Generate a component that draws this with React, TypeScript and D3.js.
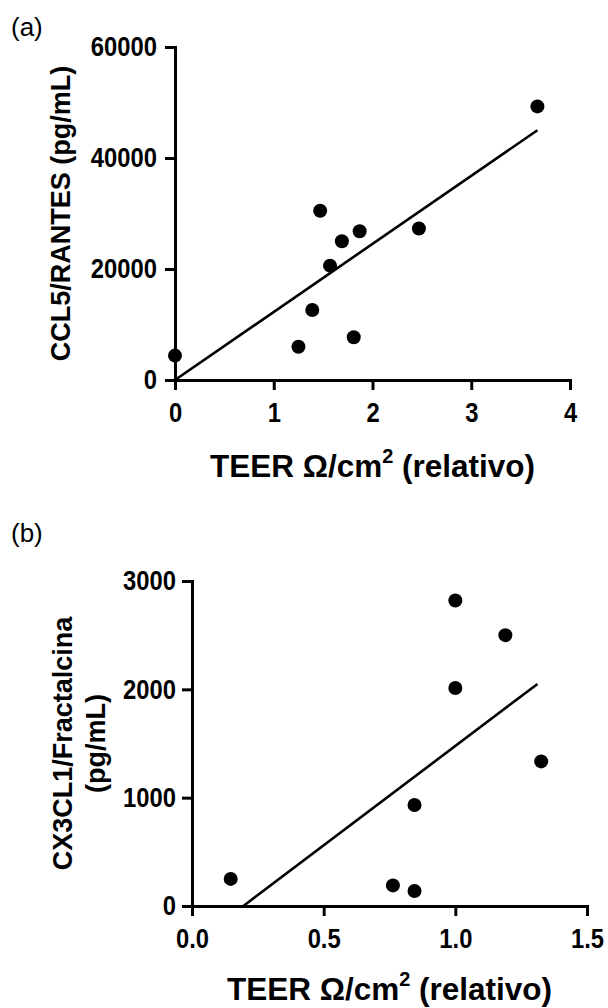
import React, { useEffect, useRef } from "react";
import * as d3 from "d3";

// Panel (a) data
const aTeer = [0, 1.25, 1.39, 1.47, 1.57, 1.69, 1.81, 1.87, 2.47, 3.67];
const aCcl5 = [4400, 6000, 12600, 30500, 20600, 25000, 7700, 26800, 27300, 49300];
const aFitX = [0, 3.67];
const aFitY = [0, 45000];
const aXTicks = [0, 1, 2, 3, 4];
const aYTicks = [0, 20000, 40000, 60000];

// Panel (b) data
const bTeer = [0.147, 0.763, 0.845, 0.845, 1.0, 1.0, 1.19, 1.326];
const bCx3cl1 = [250, 190, 138, 932, 2820, 2012, 2500, 1335];
const bFitX = [0.195, 1.312];
const bFitY = [0, 2050];
const bXTicks = [0, 0.5, 1.0, 1.5];
const bYTicks = [0, 1000, 2000, 3000];

const SANS = "'Liberation Sans', Arial, Helvetica, sans-serif";
const NARROW_SCALE = 0.85;

type Panel = {
  letter: string;
  letterY: number;
  xs: number[];
  ys: number[];
  fitX: number[];
  fitY: number[];
  xDomain: [number, number];
  yDomain: [number, number];
  xRange: [number, number];
  yRange: [number, number];
  xTicks: number[];
  yTicks: number[];
  xFmt: (v: number) => string;
  yGap: number;
  yLabel: string[];
  yLabelX: number[];
  xTitleY: number;
};

const panels: Panel[] = [
  {
    letter: "(a)",
    letterY: 36,
    xs: aTeer,
    ys: aCcl5,
    fitX: aFitX,
    fitY: aFitY,
    xDomain: [0, 4],
    yDomain: [0, 60000],
    xRange: [175, 570],
    yRange: [380, 47],
    xTicks: aXTicks,
    yTicks: aYTicks,
    xFmt: d3.format("d"),
    yGap: 18,
    yLabel: ["CCL5/RANTES (pg/mL)"],
    yLabelX: [70],
    xTitleY: 477,
  },
  {
    letter: "(b)",
    letterY: 542,
    xs: bTeer,
    ys: bCx3cl1,
    fitX: bFitX,
    fitY: bFitY,
    xDomain: [0, 1.5],
    yDomain: [0, 3000],
    xRange: [192, 587],
    yRange: [906, 581],
    xTicks: bXTicks,
    yTicks: bYTicks,
    xFmt: d3.format(".1f"),
    yGap: 16,
    yLabel: ["CX3CL1/Fractalcina", "(pg/mL)"],
    yLabelX: [72, 105],
    xTitleY: 1000,
  },
];

export default function App() {
  const ref = useRef<SVGSVGElement>(null);

  useEffect(() => {
    const svg = d3.select(ref.current);
    svg.selectAll("*").remove();

    panels.forEach((p) => {
      const g = svg.append("g");
      const x = d3.scaleLinear().domain(p.xDomain).range(p.xRange);
      const y = d3.scaleLinear().domain(p.yDomain).range(p.yRange);

      // panel letter
      g.append("text")
        .attr("x", 11)
        .attr("y", p.letterY)
        .attr("font-family", SANS)
        .attr("font-size", 26)
        .attr("fill", "#000")
        .text(p.letter);

      // x axis
      const xAxis = d3
        .axisBottom(x)
        .tickValues(p.xTicks)
        .tickFormat((d) => p.xFmt(d as number))
        .tickSize(10)
        .tickSizeOuter(0)
        .tickPadding(12);
      const gx = g
        .append("g")
        .attr("transform", `translate(0,${p.yRange[0]})`)
        .call(xAxis);

      // y axis
      const yAxis = d3
        .axisLeft(y)
        .tickValues(p.yTicks)
        .tickFormat(d3.format("d"))
        .tickSize(10)
        .tickSizeOuter(0)
        .tickPadding(p.yGap - 10);
      const gy = g
        .append("g")
        .attr("transform", `translate(${p.xRange[0]},0)`)
        .call(yAxis);

      [gx, gy].forEach((ax) => {
        ax.attr("font-family", null).attr("font-size", null);
        ax.select(".domain").attr("stroke", "#000").attr("stroke-width", 3).attr("stroke-linecap", "square");
        ax.selectAll(".tick line").attr("stroke", "#000").attr("stroke-width", 3);
        ax.selectAll(".tick text")
          .attr("fill", "#000")
          .attr("font-family", SANS)
          .attr("font-weight", "bold")
          .attr("font-size", 28)
          .attr("transform", `scale(${NARROW_SCALE},1)`);
      });
      gy.selectAll(".tick text").attr("x", -p.yGap / NARROW_SCALE);

      // regression line
      const fit = p.fitX.map((v, i) => [v, p.fitY[i]] as [number, number]);
      g.append("path")
        .datum(fit)
        .attr("fill", "none")
        .attr("stroke", "#000")
        .attr("stroke-width", 2.6)
        .attr(
          "d",
          d3
            .line<[number, number]>()
            .x((d) => x(d[0]))
            .y((d) => y(d[1]))
        );

      // points
      g.selectAll("circle.pt")
        .data(p.xs.map((v, i) => [v, p.ys[i]]))
        .enter()
        .append("circle")
        .attr("class", "pt")
        .attr("cx", (d) => x(d[0]))
        .attr("cy", (d) => y(d[1]))
        .attr("r", 7)
        .attr("fill", "#000");

      // y label
      const cy = (p.yRange[0] + p.yRange[1]) / 2;
      p.yLabel.forEach((line, i) => {
        g.append("text")
          .attr("transform", `translate(${p.yLabelX[i]},${cy}) rotate(-90)`)
          .attr("text-anchor", "middle")
          .attr("font-family", SANS)
          .attr("font-weight", "bold")
          .attr("font-size", 27)
          .attr("fill", "#000")
          .text(line);
      });

      // x title
      const cx = (p.xRange[0] + p.xRange[1]) / 2;
      const t = g
        .append("text")
        .attr("x", cx)
        .attr("y", p.xTitleY)
        .attr("text-anchor", "middle")
        .attr("font-family", SANS)
        .attr("font-weight", "bold")
        .attr("font-size", 31.5)
        .attr("fill", "#000");
      t.append("tspan").text("TEER \u03A9/cm");
      t.append("tspan").attr("font-size", 20).attr("dy", -14).text("2");
      t.append("tspan").attr("dy", 14).text(" (relativo)");
    });
  }, []);

  return (
    <svg
      ref={ref}
      width={608}
      height={1008}
      style={{ position: "absolute", left: 0, top: 0, background: "#fff" }}
    />
  );
}
